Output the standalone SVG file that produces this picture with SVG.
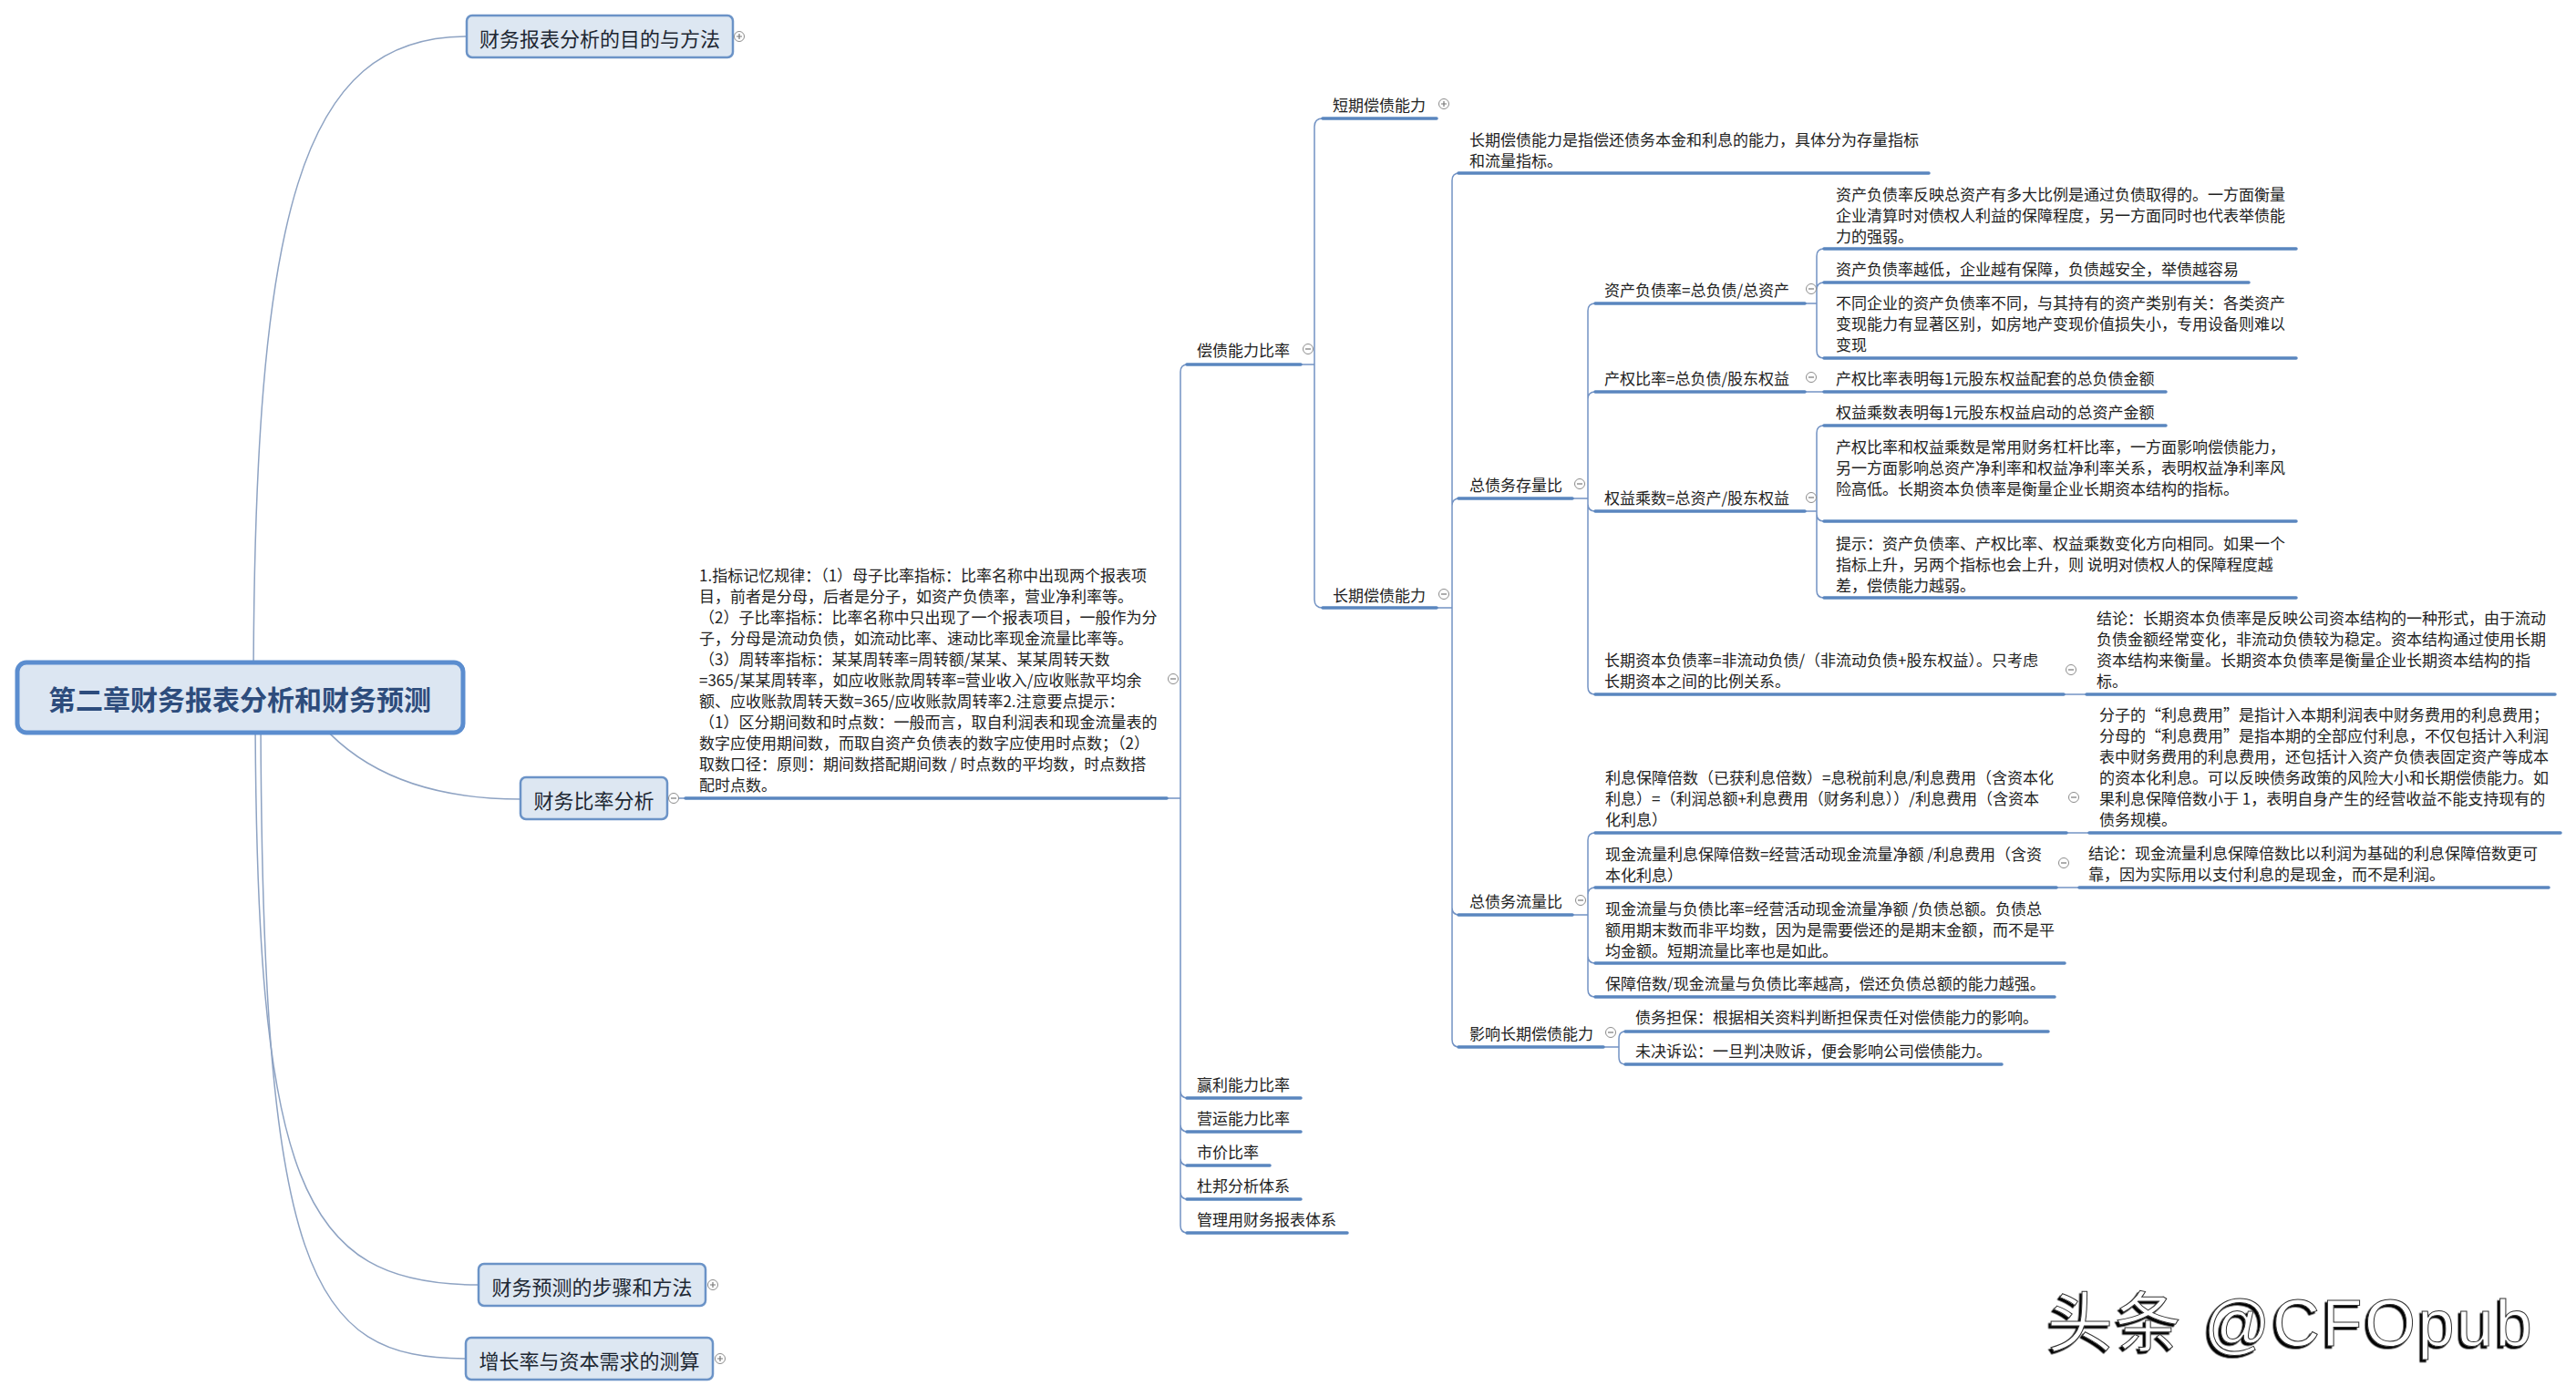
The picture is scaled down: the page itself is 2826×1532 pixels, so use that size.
<svg xmlns="http://www.w3.org/2000/svg" width="2826" height="1532" viewBox="0 0 2826 1532">
<style>
text { font-family: "Noto Sans CJK SC", "Noto Sans", sans-serif; fill: #222; dominant-baseline: central; }
.t { font-size: 17px; }
.l1 { font-size: 22px; fill: #1d2733; text-anchor: middle; }
.root { font-size: 30px; font-weight: bold; fill: #2d4c7c; text-anchor: middle; }
.ul { stroke: #5a86bf; stroke-width: 3.5; fill: none; stroke-linecap: round; }
.cn { stroke: #7393c4; stroke-width: 1.5; fill: none; }
.rc { stroke: #8ea3c3; stroke-width: 1.5; fill: none; }
.box1 { fill: #dde7f2; stroke: #6b93c7; stroke-width: 2.5; }
.rootbox { fill: #dce6f2; stroke: #5b8dcf; stroke-width: 5; }
.wm { font-family: "Liberation Sans", "Noto Sans CJK SC", sans-serif; font-size: 72px; fill: #fff; stroke: #333; stroke-width: 1; dominant-baseline: auto; letter-spacing: 2.5px; }
</style>
<defs>
<g id="minus"><circle r="5.5" fill="#fff" stroke="#8c8c8c" stroke-width="1"/><path d="M-3 0H3" stroke="#777" stroke-width="1.2"/></g>
<g id="plus"><circle r="5.5" fill="#fff" stroke="#8c8c8c" stroke-width="1"/><path d="M-3 0H3M0 -3V3" stroke="#777" stroke-width="1.2"/></g>
<filter id="emb" x="-5%" y="-10%" width="110%" height="130%">
<feDropShadow dx="-2.5" dy="2.5" stdDeviation="0.6" flood-color="#000" flood-opacity="1"/>
</filter>
</defs>

<g id="connectors">
<path class="rc" d="M278 765C278 230 330 40 512 40"/>
<path class="rc" d="M330 765Q400 877 571 877"/>
<path class="rc" d="M280 765C280 1300 330 1410 525 1410"/>
<path class="rc" d="M286 765C286 1400 340 1491 511 1491"/>
<path class="cn" d="M732 876H752"/>
<path class="cn" d="M1280 876H1295M1295 876V408Q1295 400 1303 400M1295 876V1197Q1295 1205 1303 1205M1295 876V1234Q1295 1242 1303 1242M1295 876V1271Q1295 1279 1303 1279M1295 876V1308Q1295 1316 1303 1316M1295 876V1345Q1295 1353 1303 1353"/>
<path class="cn" d="M1427 400H1442M1442 400V139Q1442 130 1451 130M1442 400V658Q1442 667 1451 667"/>
<path class="cn" d="M1576 667H1593M1593 667V198Q1593 190 1601 190M1593 667V555Q1593 547 1601 547M1593 667V996Q1593 1004 1601 1004M1593 667V1141Q1593 1149 1601 1149"/>
<path class="cn" d="M1725 547H1742M1742 547V341Q1742 333 1750 333M1742 547V438Q1742 430 1750 430M1742 547V553Q1742 561 1750 561M1742 547V754Q1742 762 1750 762"/>
<path class="cn" d="M1725 1004H1742M1742 1004V922Q1742 914 1750 914M1742 1004V982Q1742 974 1750 974M1742 1004V1049Q1742 1057 1750 1057M1742 1004V1086Q1742 1094 1750 1094"/>
<path class="cn" d="M1759 1149H1776M1776 1149V1140Q1776 1132 1783 1132M1776 1149V1160Q1776 1168 1783 1168"/>
<path class="cn" d="M1980 333H1993M1993 333V281Q1993 273 2001 273M1993 333V318Q1993 310 2001 310M1993 333V385Q1993 393 2001 393"/>
<path class="cn" d="M1980 430H2001"/>
<path class="cn" d="M1980 561H1993M1993 561V475Q1993 467 2001 467M1993 561V564Q1993 572 2001 572M1993 561V648Q1993 656 2001 656"/>
<path class="cn" d="M2264 762H2289"/>
<path class="cn" d="M2267 914H2292"/>
<path class="cn" d="M2256 974H2281"/>
</g>

<g id="n-root">
<rect class="rootbox" x="19" y="727" width="489" height="77" rx="10"/>
<text class="root" x="263" y="766">第二章财务报表分析和财务预测</text>
</g>

<g id="n-mudi">
<rect class="box1" x="512" y="17" width="292" height="46" rx="6"/>
<text class="l1" x="658" y="41">财务报表分析的目的与方法</text>
<use href="#plus" x="811" y="40"/>
</g>

<g id="n-bilv">
<rect class="box1" x="571" y="853" width="161" height="46" rx="6"/>
<text class="l1" x="651.5" y="877">财务比率分析</text>
<use href="#minus" x="739" y="876"/>
</g>

<g id="n-yuce">
<rect class="box1" x="525" y="1387" width="249" height="46" rx="6"/>
<text class="l1" x="649.5" y="1411">财务预测的步骤和方法</text>
<use href="#plus" x="782" y="1410"/>
</g>

<g id="n-zengzhang">
<rect class="box1" x="511" y="1468" width="271" height="46" rx="6"/>
<text class="l1" x="646.5" y="1492">增长率与资本需求的测算</text>
<use href="#plus" x="790" y="1491"/>
</g>

<g id="n-guilv">
<path class="ul" d="M752 876H1280"/>
<text class="t" x="767" y="630">
<tspan x="767">1.指标记忆规律：（1）母子比率指标：比率名称中出现两个报表项</tspan>
<tspan x="767" dy="23">目，前者是分母，后者是分子，如资产负债率，营业净利率等。</tspan>
<tspan x="767" dy="23">（2）子比率指标：比率名称中只出现了一个报表项目，一般作为分</tspan>
<tspan x="767" dy="23">子，分母是流动负债，如流动比率、速动比率现金流量比率等。</tspan>
<tspan x="767" dy="23">（3）周转率指标：某某周转率=周转额/某某、某某周转天数</tspan>
<tspan x="767" dy="23">=365/某某周转率，如应收账款周转率=营业收入/应收账款平均余</tspan>
<tspan x="767" dy="23">额、应收账款周转天数=365/应收账款周转率2.注意要点提示：</tspan>
<tspan x="767" dy="23">（1）区分期间数和时点数：一般而言，取自利润表和现金流量表的</tspan>
<tspan x="767" dy="23">数字应使用期间数，而取自资产负债表的数字应使用时点数；（2）</tspan>
<tspan x="767" dy="23">取数口径：原则：期间数搭配期间数 / 时点数的平均数，时点数搭</tspan>
<tspan x="767" dy="23">配时点数。</tspan>
</text>
<use href="#minus" x="1287" y="745"/>
</g>

<g id="n-changzhai">
<path class="ul" d="M1302 400H1427"/>
<text class="t" x="1313" y="383">偿债能力比率</text>
<use href="#minus" x="1435" y="383"/>
</g>
<g id="n-yingli"><path class="ul" d="M1302 1205H1427"/><text class="t" x="1313" y="1189">赢利能力比率</text></g>
<g id="n-yingyun"><path class="ul" d="M1302 1242H1427"/><text class="t" x="1313" y="1226">营运能力比率</text></g>
<g id="n-shijia"><path class="ul" d="M1302 1279H1393"/><text class="t" x="1313" y="1263">市价比率</text></g>
<g id="n-dubang"><path class="ul" d="M1302 1316H1427"/><text class="t" x="1313" y="1300">杜邦分析体系</text></g>
<g id="n-guanli"><path class="ul" d="M1302 1353H1478"/><text class="t" x="1313" y="1337">管理用财务报表体系</text></g>

<g id="n-duanqi">
<path class="ul" d="M1451 130H1576"/>
<text class="t" x="1462" y="114">短期偿债能力</text>
<use href="#plus" x="1584" y="114"/>
</g>
<g id="n-changqi">
<path class="ul" d="M1451 667H1576"/>
<text class="t" x="1462" y="652">长期偿债能力</text>
<use href="#minus" x="1584" y="652"/>
</g>

<g id="n-changqi-def">
<path class="ul" d="M1600 190H2116"/>
<text class="t" x="1612" y="152"><tspan x="1612">长期偿债能力是指偿还债务本金和利息的能力，具体分为存量指标</tspan><tspan x="1612" dy="23">和流量指标。</tspan></text>
</g>

<g id="n-cunliang">
<path class="ul" d="M1600 547H1725"/>
<text class="t" x="1612" y="531">总债务存量比</text>
<use href="#minus" x="1733" y="531"/>
</g>

<g id="n-zcfzl">
<path class="ul" d="M1750 333H1980"/>
<text class="t" x="1760" y="317">资产负债率=总负债/总资产</text>
<use href="#minus" x="1987" y="317"/>
</g>
<g id="n-zcfzl-1">
<path class="ul" d="M2001 273H2519"/>
<text class="t" x="2014" y="212"><tspan x="2014">资产负债率反映总资产有多大比例是通过负债取得的。一方面衡量</tspan><tspan x="2014" dy="23">企业清算时对债权人利益的保障程度，另一方面同时也代表举债能</tspan><tspan x="2014" dy="23">力的强弱。</tspan></text>
</g>
<g id="n-zcfzl-2">
<path class="ul" d="M2001 310H2467"/>
<text class="t" x="2014" y="294">资产负债率越低，企业越有保障，负债越安全，举债越容易</text>
</g>
<g id="n-zcfzl-3">
<path class="ul" d="M2001 393H2519"/>
<text class="t" x="2014" y="331"><tspan x="2014">不同企业的资产负债率不同，与其持有的资产类别有关：各类资产</tspan><tspan x="2014" dy="23">变现能力有显著区别，如房地产变现价值损失小，专用设备则难以</tspan><tspan x="2014" dy="23">变现</tspan></text>
</g>

<g id="n-cqbl">
<path class="ul" d="M1750 430H1980"/>
<text class="t" x="1760" y="414">产权比率=总负债/股东权益</text>
<use href="#minus" x="1987" y="414"/>
</g>
<g id="n-cqbl-1">
<path class="ul" d="M2001 430H2376"/>
<text class="t" x="2014" y="414">产权比率表明每1元股东权益配套的总负债金额</text>
</g>

<g id="n-qycs">
<path class="ul" d="M1750 561H1980"/>
<text class="t" x="1760" y="545">权益乘数=总资产/股东权益</text>
<use href="#minus" x="1987" y="546"/>
</g>
<g id="n-qycs-1">
<path class="ul" d="M2001 467H2376"/>
<text class="t" x="2014" y="451">权益乘数表明每1元股东权益启动的总资产金额</text>
</g>
<g id="n-qycs-2">
<path class="ul" d="M2001 572H2519"/>
<text class="t" x="2014" y="489"><tspan x="2014">产权比率和权益乘数是常用财务杠杆比率，一方面影响偿债能力，</tspan><tspan x="2014" dy="23">另一方面影响总资产净利率和权益净利率关系，表明权益净利率风</tspan><tspan x="2014" dy="23">险高低。长期资本负债率是衡量企业长期资本结构的指标。</tspan></text>
</g>
<g id="n-qycs-3">
<path class="ul" d="M2001 656H2519"/>
<text class="t" x="2014" y="595"><tspan x="2014">提示：资产负债率、产权比率、权益乘数变化方向相同。如果一个</tspan><tspan x="2014" dy="23">指标上升，另两个指标也会上升，则 说明对债权人的保障程度越</tspan><tspan x="2014" dy="23">差，偿债能力越弱。</tspan></text>
</g>

<g id="n-cqzbfzl">
<path class="ul" d="M1750 762H2264"/>
<text class="t" x="1760" y="723"><tspan x="1760">长期资本负债率=非流动负债/（非流动负债+股东权益）。只考虑</tspan><tspan x="1760" dy="23">长期资本之间的比例关系。</tspan></text>
<use href="#minus" x="2272" y="735"/>
</g>
<g id="n-cqzbfzl-1">
<path class="ul" d="M2289 762H2803"/>
<text class="t" x="2300" y="677"><tspan x="2300">结论：长期资本负债率是反映公司资本结构的一种形式，由于流动</tspan><tspan x="2300" dy="23">负债金额经常变化，非流动负债较为稳定。资本结构通过使用长期</tspan><tspan x="2300" dy="23">资本结构来衡量。长期资本负债率是衡量企业长期资本结构的指</tspan><tspan x="2300" dy="23">标。</tspan></text>
</g>

<g id="n-liuliang">
<path class="ul" d="M1600 1004H1725"/>
<text class="t" x="1612" y="988">总债务流量比</text>
<use href="#minus" x="1734" y="988"/>
</g>
<g id="n-lxbz">
<path class="ul" d="M1750 914H2267"/>
<text class="t" x="1761" y="852"><tspan x="1761">利息保障倍数（已获利息倍数）=息税前利息/利息费用（含资本化</tspan><tspan x="1761" dy="23">利息）=（利润总额+利息费用（财务利息））/利息费用（含资本</tspan><tspan x="1761" dy="23">化利息）</tspan></text>
<use href="#minus" x="2275" y="875"/>
</g>
<g id="n-lxbz-1">
<path class="ul" d="M2292 914H2809"/>
<text class="t" x="2303" y="783"><tspan x="2303">分子的“利息费用”是指计入本期利润表中财务费用的利息费用；</tspan><tspan x="2303" dy="23">分母的“利息费用”是指本期的全部应付利息，不仅包括计入利润</tspan><tspan x="2303" dy="23">表中财务费用的利息费用，还包括计入资产负债表固定资产等成本</tspan><tspan x="2303" dy="23">的资本化利息。可以反映债务政策的风险大小和长期偿债能力。如</tspan><tspan x="2303" dy="23">果利息保障倍数小于 1，表明自身产生的经营收益不能支持现有的</tspan><tspan x="2303" dy="23">债务规模。</tspan></text>
</g>
<g id="n-xjlx">
<path class="ul" d="M1750 974H2256"/>
<text class="t" x="1761" y="936"><tspan x="1761">现金流量利息保障倍数=经营活动现金流量净额 /利息费用（含资</tspan><tspan x="1761" dy="23">本化利息）</tspan></text>
<use href="#minus" x="2264" y="947"/>
</g>
<g id="n-xjlx-1">
<path class="ul" d="M2281 974H2796"/>
<text class="t" x="2291" y="935"><tspan x="2291">结论：现金流量利息保障倍数比以利润为基础的利息保障倍数更可</tspan><tspan x="2291" dy="23">靠，因为实际用以支付利息的是现金，而不是利润。</tspan></text>
</g>
<g id="n-xjfz">
<path class="ul" d="M1750 1057H2265"/>
<text class="t" x="1761" y="996"><tspan x="1761">现金流量与负债比率=经营活动现金流量净额 /负债总额。负债总</tspan><tspan x="1761" dy="23">额用期末数而非平均数，因为是需要偿还的是期末金额，而不是平</tspan><tspan x="1761" dy="23">均金额。短期流量比率也是如此。</tspan></text>
</g>
<g id="n-bzbs">
<path class="ul" d="M1750 1094H2254"/>
<text class="t" x="1761" y="1078">保障倍数/现金流量与负债比率越高，偿还负债总额的能力越强。</text>
</g>

<g id="n-yingxiang">
<path class="ul" d="M1600 1149H1759"/>
<text class="t" x="1612" y="1133">影响长期偿债能力</text>
<use href="#minus" x="1767" y="1133"/>
</g>
<g id="n-danbao">
<path class="ul" d="M1783 1132H2247"/>
<text class="t" x="1794" y="1115">债务担保：根据相关资料判断担保责任对偿债能力的影响。</text>
</g>
<g id="n-susong">
<path class="ul" d="M1783 1168H2196"/>
<text class="t" x="1794" y="1152">未决诉讼：一旦判决败诉，便会影响公司偿债能力。</text>
</g>

<g id="watermark">
<text class="wm" x="2246" y="1477" filter="url(#emb)">头条 @CFOpub</text>
</g>
</svg>
